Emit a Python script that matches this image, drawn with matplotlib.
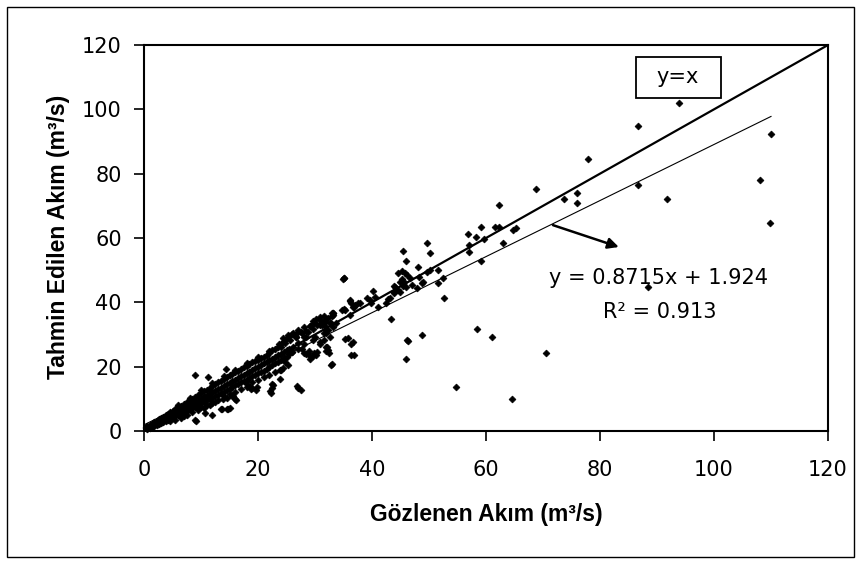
import matplotlib
matplotlib.use('Agg')
import matplotlib.pyplot as plt
from matplotlib.patches import Rectangle

plt.rcParams['font.family'] = ['DejaVu Sans']

# ---------------- data (observed, predicted) ----------------
core_points = [
    (0.3, 0.8), (0.3, 1.2), (0.6, 0.5), (0.6, 0.9), (0.6, 1.5), (1.0, 0.9), (1.0, 1.3), (1.0, 1.8),
    (1.4, 1.1), (1.4, 1.6), (1.4, 2.2), (1.8, 1.4), (1.8, 2.1), (1.8, 2.7), (2.2, 1.8), (2.2, 2.4),
    (2.2, 3.1), (2.6, 2.1), (2.6, 2.9), (2.6, 3.6), (3.0, 2.5), (3.0, 3.2), (3.0, 4.0), (3.4, 2.8),
    (3.4, 3.5), (3.4, 4.4), (3.8, 3.1), (3.8, 4.0), (3.8, 4.9), (4.2, 3.4), (4.2, 4.3), (4.2, 5.4),
    (4.6, 3.0), (4.6, 3.8), (4.6, 4.8), (4.6, 5.9), (5.0, 4.2), (5.0, 5.1), (5.0, 6.3), (5.5, 3.4),
    (5.5, 4.6), (5.5, 5.6), (5.5, 6.8), (6.0, 5.0), (6.0, 6.1), (6.0, 7.4), (6.5, 4.0), (6.5, 5.4),
    (6.5, 6.6), (6.5, 7.9), (7.0, 5.9), (7.0, 7.1), (7.0, 8.4), (7.5, 5.0), (7.5, 6.3), (7.5, 7.5),
    (7.5, 8.9), (8.0, 6.8), (8.0, 8.0), (8.0, 9.5), (8.5, 5.8), (8.5, 7.2), (8.5, 8.4), (8.5, 10.0),
    (9.0, 3.4), (9.0, 7.6), (9.0, 9.0), (9.0, 10.6), (9.1, 3.0), (9.5, 6.5), (9.5, 8.1), (9.5, 9.4),
    (9.5, 11.2), (10.0, 8.6), (10.0, 10.0), (10.0, 11.8), (10.5, 7.2), (10.5, 9.0), (10.5, 10.5),
    (10.5, 12.4), (10.7, 5.7), (11.0, 9.5), (11.0, 11.0), (11.0, 12.9), (11.5, 8.0), (11.5, 10.0),
    (11.5, 11.4), (11.5, 13.5), (11.9, 5.0), (12.0, 10.4), (12.0, 12.0), (12.0, 14.0), (12.5, 9.1),
    (12.5, 10.9), (12.5, 12.4), (12.5, 14.6), (13.0, 11.3), (13.0, 13.0), (13.0, 15.1), (13.5, 6.8),
    (13.5, 11.8), (13.5, 13.4), (13.5, 15.6), (13.9, 9.8), (14.0, 12.2), (14.0, 14.0), (14.0, 16.2),
    (14.5, 10.2), (14.5, 12.8), (14.5, 14.5), (14.5, 16.8), (14.8, 6.9), (15.0, 13.2), (15.0, 15.0),
    (15.0, 17.3), (15.5, 10.9), (15.5, 13.6), (15.5, 15.4), (15.5, 17.8), (16.0, 9.8), (16.0, 14.2),
    (16.0, 16.0), (16.0, 18.3), (16.5, 14.6), (16.5, 16.4), (16.5, 18.8), (17.0, 15.1), (17.0, 17.0),
    (17.0, 19.3), (17.5, 15.6), (17.5, 17.5), (17.5, 19.8), (18.0, 13.6), (18.0, 16.0), (18.0, 18.0),
    (18.0, 20.3), (18.6, 13.6), (18.5, 16.5), (18.5, 18.4), (18.5, 20.8), (19.0, 17.0), (19.0, 19.0),
    (19.0, 21.3), (19.6, 12.8), (19.5, 17.4), (19.5, 19.5), (19.5, 21.8), (19.8, 13.6), (20.0, 17.9),
    (20.0, 20.0), (20.0, 22.2), (20.5, 18.4), (20.5, 20.4), (20.5, 22.6), (21.0, 18.8), (21.0, 21.0),
    (21.0, 23.0), (21.5, 19.3), (21.5, 21.5), (21.5, 23.5), (22.0, 20.0), (22.0, 22.0), (22.0, 24.2),
    (22.1, 12.3), (22.2, 11.7), (22.4, 13.4), (22.4, 14.6), (22.5, 20.5), (22.5, 22.4), (22.5, 25.2),
    (22.6, 14.3), (23.0, 21.0), (23.0, 23.1), (23.0, 25.6), (23.5, 21.6), (23.5, 23.5), (23.5, 26.0),
    (23.9, 16.2), (23.9, 19.0), (24.0, 22.2), (24.0, 24.0), (24.0, 27.0), (24.4, 19.5), (24.5, 22.8),
    (24.5, 24.6), (24.5, 28.0), (24.7, 21.6), (25.0, 23.0), (25.0, 25.2), (25.0, 28.8), (25.3, 20.5),
    (25.5, 24.0), (25.5, 25.6), (25.5, 29.6), (26.0, 24.6), (26.2, 26.2), (26.0, 30.2), (26.7, 29.3),
    (27.0, 25.5), (27.0, 27.4), (27.0, 30.8), (26.9, 14.0), (27.1, 13.4), (27.5, 12.6),
    (9.0, 17.3), (11.2, 16.8), (14.4, 19.2), (14.6, 6.7), (15.7, 10.9), (16.1, 9.6), (13.6, 6.8),
    (15.1, 7.1), (18.7, 13.0), (19.0, 13.4),
    (6.0, 8.2), (8.0, 10.3), (10.0, 12.6), (12.0, 14.8), (14.0, 17.0), (16.0, 19.0), (18.0, 21.0),
    (20.0, 22.9), (22.0, 25.0), (7.0, 4.8), (10.0, 7.5), (12.0, 8.8), (14.0, 10.8), (16.0, 12.2),
    (18.0, 14.5), (20.0, 15.8), (22.0, 17.5), (24.0, 19.0), (11.0, 8.2), (13.0, 9.6), (15.0, 11.6),
    (17.0, 13.0), (19.0, 15.2), (21.0, 16.8), (23.0, 18.4),
]

mid_points = [
    (27.1, 31.4), (27.7, 30.4), (28.0, 32.4), (28.5, 31.2), (28.0, 29.3), (28.5, 29.3), (27.5, 30.9),
    (28.8, 30.9), (29.1, 32.6), (29.7, 31.6), (29.8, 33.5), (30.9, 32.9), (30.8, 34.5), (31.7, 34.5),
    (31.5, 35.7), (32.9, 36.8), (34.7, 37.6), (36.1, 40.5), (29.1, 32.7), (30.4, 33.0), (31.0, 33.5),
    (31.8, 32.7), (32.6, 33.6), (32.3, 31.4), (32.0, 30.4), (32.6, 29.3), (29.6, 28.3), (30.8, 27.2),
    (32.0, 26.2), (32.0, 24.9), (35.3, 28.7), (36.3, 27.2), (36.3, 23.7), (32.9, 20.7), (28.5, 23.9),
    (29.1, 23.3), (29.8, 24.1), (30.1, 23.7), (29.1, 22.5), (29.7, 23.2), (27.7, 25.4), (28.1, 24.3),
    (29.0, 24.9), (30.3, 24.6), (32.3, 25.2), (32.5, 24.1), (31.5, 30.4), (30.0, 29.3), (30.8, 27.7),
    (31.5, 28.3), (28.0, 27.2), (25.9, 24.7), (33.1, 36.8), (33.1, 36.1), (32.9, 35.6), (33.7, 33.6),
    (30.9, 35.3), (30.2, 34.7), (29.7, 34.3), (31.9, 31.4), (32.8, 33.7), (33.2, 32.2), (31.8, 34.0),
    (31.2, 33.0), (32.3, 35.0), (33.2, 36.6), (32.1, 26.2), (35.0, 47.5), (34.9, 47.3), (35.1, 47.7),
    (35.1, 37.8), (36.1, 36.1), (35.3, 37.6), (36.8, 38.5), (36.1, 40.7), (36.4, 39.9), (37.0, 39.2),
    (37.9, 39.7), (36.7, 38.4), (37.6, 39.9), (35.8, 28.8), (36.7, 27.8), (36.9, 23.7), (32.8, 20.6),
    (26.1, 30.4), (26.7, 29.3), (25.3, 29.8), (25.6, 28.3), (24.4, 28.8), (24.7, 27.4), (23.6, 27.2),
    (24.1, 26.0),
]

upper_points = [
    (39.1, 41.2), (39.6, 40.7), (39.9, 39.7), (40.2, 43.6), (40.5, 41.7), (41.1, 38.7), (42.5, 39.7),
    (42.8, 40.9), (43.1, 41.2), (43.9, 43.3), (44.9, 43.3), (43.4, 34.8), (43.9, 45.1), (44.5, 43.8),
    (43.9, 43.0), (44.6, 49.2), (45.2, 49.8), (45.8, 49.2), (46.1, 48.5), (45.0, 46.4), (45.5, 45.1),
    (45.6, 46.4), (46.7, 47.7), (47.0, 45.4), (47.9, 44.6), (48.7, 46.1), (49.0, 46.4), (48.3, 47.8),
    (48.0, 50.9), (49.6, 49.5), (50.2, 50.0), (51.6, 50.2), (52.5, 47.7), (51.6, 45.9), (52.6, 41.2),
    (45.4, 56.0), (46.0, 52.9), (49.6, 58.6), (50.2, 55.4), (46.4, 28.1), (48.8, 29.8), (46.0, 22.4),
    (46.2, 28.2), (44.0, 44.7), (46.0, 44.7), (45.2, 47.2),
]

high_points = [
    (54.8, 13.8), (64.5, 10.1), (56.9, 61.1), (58.2, 60.4), (59.7, 59.7), (57.1, 57.8), (57.1, 55.8),
    (59.2, 53.0), (59.2, 63.5), (61.5, 63.5), (62.3, 63.5), (64.7, 62.6), (65.3, 63.1), (63.0, 58.6),
    (62.3, 70.3), (58.4, 31.7), (61.1, 29.3), (68.7, 75.3), (70.5, 24.4), (73.6, 72.1), (76.0, 74.0),
    (76.0, 70.9), (77.9, 84.7), (86.6, 94.7), (86.6, 76.6), (88.4, 44.7), (91.8, 72.1), (93.8, 102.1),
    (108.1, 77.9), (110.0, 92.2), (109.9, 64.8),
]

slope = 0.8715
intercept = 1.924
r_squared = 0.913
fit_x_max = 110
axis_max = 120
tick_values = [0, 20, 40, 60, 80, 100, 120]
x_label = "Gözlenen Akım (m³/s)"
y_label = "Tahmin Edilen Akım (m³/s)"
identity_label = "y=x"
equation_label = "y = 0.8715x + 1.924"
r2_label = "R² = 0.913"

points = core_points + mid_points + upper_points + high_points
observed = [p[0] for p in points]
predicted = [p[1] for p in points]

# ---------------- figure ----------------
W, H = 860, 563
fig = plt.figure(figsize=(W / 100, H / 100), dpi=100)
ax = fig.add_axes([144 / W, 1 - 431 / H, 684 / W, 386 / H])
ax.set_xlim(0, axis_max)
ax.set_ylim(0, axis_max)

ax.plot(observed, predicted, linestyle='none', marker='D', ms=3.5,
        color='black', mec='black', mew=0.5, zorder=3, clip_on=False)

ax.plot([0, axis_max], [0, axis_max], color='black', lw=1.6, zorder=4,
        clip_on=False, solid_capstyle='butt')
ax.plot([0, fit_x_max], [intercept, slope * fit_x_max + intercept],
        color='black', lw=0.8, zorder=4)

for s in ax.spines.values():
    s.set_linewidth(1.5)
ax.set_xticks(tick_values)
ax.set_yticks(tick_values)
ax.tick_params(direction='out', length=7, width=1.2, labelsize=15)
ax.tick_params(axis='x', pad=14)
ax.tick_params(axis='y', pad=9)

lab_font = dict(family='Liberation Sans', weight='bold', size=16.5)
ax.set_xlabel(x_label, **lab_font)
ax.set_ylabel(y_label, **lab_font)
ax.xaxis.set_label_coords(0.5, (431 - 515) / 386)
ax.xaxis.label.set_va('center')
ax.yaxis.set_label_coords((58 - 144) / 684, (431 - 237) / 386)
ax.yaxis.label.set_va('center')

# y=x box
ax.add_patch(Rectangle((86.3, 103.5), 14.9, 12.8, facecolor='white',
                       edgecolor='black', lw=1.3, zorder=5, clip_on=False))
ax.text(93.7, 109.9, identity_label, ha='center', va='center',
        fontsize=15, zorder=6)

# regression annotation
ax.annotate('', xy=(83.3, 57.2), xytext=(71.75, 64.0),
            arrowprops=dict(arrowstyle='-|>', color='black', lw=1.8,
                            mutation_scale=16, shrinkA=0, shrinkB=0), zorder=6)
ax.text(90.2, 47.6, equation_label, ha='center', va='center',
        fontsize=15, zorder=6)
ax.text(90.5, 37.0, r2_label, ha='center', va='center',
        fontsize=15, zorder=6)

# outer border
fig.patches.append(Rectangle((7 / W, 1 - 557 / H), (854 - 7) / W, (557 - 7) / H,
                             transform=fig.transFigure, fill=False,
                             edgecolor='black', lw=1.0))

fig.savefig('out.png', dpi=100)
